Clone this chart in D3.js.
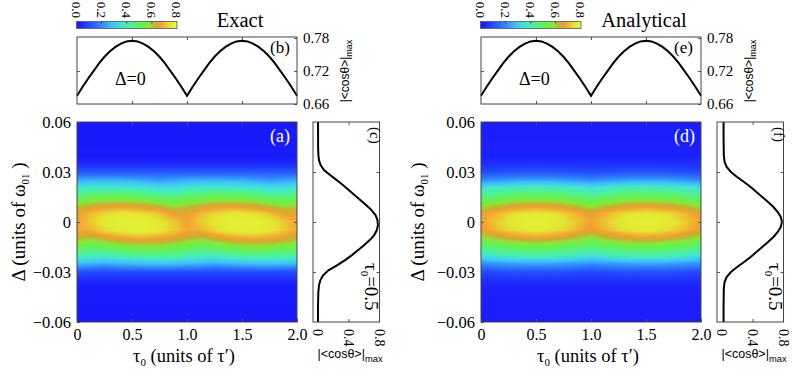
<!DOCTYPE html>
<html>
<head>
<meta charset="utf-8">
<script src="https://cdn.jsdelivr.net/npm/d3@7"></script>
<style>
  body { margin: 0; background: #fff; }
  svg { display: block; }
</style>
</head>
<body>
<svg id="chart" width="792" height="376"></svg>
<script>
// ── data ────────────────────────────────────────────────────────────────
const tauCols = [0, 0.125, 0.25, 0.375, 0.5, 0.625, 0.75, 0.875, 1, 1.125, 1.25, 1.375, 1.5, 1.625, 1.75, 1.875, 2];
const deltaRows = [0.06, 0.04, 0.035, 0.03, 0.025, 0.02, 0.015, 0.01, 0.005, 0, -0.005, -0.01, -0.015, -0.02, -0.025, -0.03, -0.035, -0.04, -0.06];

// |<cos θ>|max over (τ0, Δ), panel (a) — exact
const exactMap = [
  [0.005,0.005,0.005,0.005,0.005,0.005,0.005,0.005,0.005,0.005,0.005,0.005,0.005,0.005,0.005,0.005,0.005],
  [0.015,0.015,0.015,0.015,0.015,0.015,0.015,0.015,0.015,0.015,0.015,0.015,0.015,0.015,0.015,0.015,0.015],
  [0.04,0.04,0.04,0.04,0.04,0.04,0.04,0.04,0.04,0.04,0.04,0.04,0.04,0.04,0.04,0.04,0.04],
  [0.12,0.12,0.12,0.12,0.12,0.12,0.12,0.12,0.12,0.12,0.12,0.12,0.12,0.12,0.12,0.12,0.12],
  [0.250,0.257,0.260,0.257,0.250,0.239,0.226,0.239,0.250,0.257,0.260,0.257,0.250,0.239,0.226,0.239,0.250],
  [0.369,0.383,0.389,0.388,0.380,0.366,0.347,0.351,0.369,0.383,0.389,0.388,0.380,0.366,0.347,0.351,0.369],
  [0.493,0.514,0.527,0.530,0.523,0.506,0.483,0.467,0.493,0.514,0.527,0.530,0.523,0.506,0.483,0.467,0.493],
  [0.597,0.626,0.646,0.655,0.651,0.635,0.609,0.577,0.597,0.626,0.646,0.655,0.651,0.635,0.609,0.577,0.597],
  [0.664,0.705,0.732,0.748,0.750,0.737,0.712,0.671,0.664,0.705,0.732,0.748,0.750,0.737,0.712,0.671,0.664],
  [0.675,0.718,0.752,0.772,0.778,0.772,0.752,0.718,0.675,0.718,0.752,0.772,0.778,0.772,0.752,0.718,0.675],
  [0.682,0.694,0.730,0.756,0.768,0.767,0.752,0.722,0.682,0.694,0.730,0.756,0.768,0.767,0.752,0.722,0.682],
  [0.624,0.603,0.637,0.664,0.681,0.685,0.675,0.654,0.624,0.603,0.637,0.664,0.681,0.685,0.675,0.654,0.624],
  [0.530,0.502,0.519,0.544,0.562,0.570,0.567,0.552,0.530,0.502,0.519,0.544,0.562,0.570,0.567,0.552,0.530],
  [0.417,0.396,0.392,0.413,0.429,0.438,0.439,0.432,0.417,0.396,0.392,0.413,0.429,0.438,0.439,0.432,0.417],
  [0.274,0.262,0.248,0.262,0.274,0.282,0.285,0.282,0.274,0.262,0.248,0.262,0.274,0.282,0.285,0.282,0.274],
  [0.10,0.10,0.10,0.10,0.10,0.10,0.10,0.10,0.10,0.10,0.10,0.10,0.10,0.10,0.10,0.10,0.10],
  [0.04,0.04,0.04,0.04,0.04,0.04,0.04,0.04,0.04,0.04,0.04,0.04,0.04,0.04,0.04,0.04,0.04],
  [0.018,0.018,0.018,0.018,0.018,0.018,0.018,0.018,0.018,0.018,0.018,0.018,0.018,0.018,0.018,0.018,0.018],
  [0.005,0.005,0.005,0.005,0.005,0.005,0.005,0.005,0.005,0.005,0.005,0.005,0.005,0.005,0.005,0.005,0.005]
];

// panel (d) — analytical
const analyticMap = [
  [0.02,0.02,0.02,0.02,0.02,0.02,0.02,0.02,0.02,0.02,0.02,0.02,0.02,0.02,0.02,0.02,0.02],
  [0.028,0.028,0.028,0.028,0.028,0.028,0.028,0.028,0.028,0.028,0.028,0.028,0.028,0.028,0.028,0.028,0.028],
  [0.05,0.05,0.05,0.05,0.05,0.05,0.05,0.05,0.05,0.05,0.05,0.05,0.05,0.05,0.05,0.05,0.05],
  [0.096,0.101,0.106,0.109,0.110,0.109,0.106,0.101,0.096,0.101,0.106,0.109,0.110,0.109,0.106,0.101,0.096],
  [0.209,0.221,0.231,0.238,0.240,0.238,0.231,0.221,0.209,0.221,0.231,0.238,0.240,0.238,0.231,0.221,0.209],
  [0.357,0.377,0.394,0.406,0.410,0.406,0.394,0.377,0.357,0.377,0.394,0.406,0.410,0.406,0.394,0.377,0.357],
  [0.462,0.488,0.510,0.525,0.530,0.525,0.510,0.488,0.462,0.488,0.510,0.525,0.530,0.525,0.510,0.488,0.462],
  [0.571,0.603,0.630,0.648,0.655,0.648,0.630,0.603,0.571,0.603,0.630,0.648,0.655,0.648,0.630,0.603,0.571],
  [0.658,0.695,0.726,0.747,0.755,0.747,0.726,0.695,0.658,0.695,0.726,0.747,0.755,0.747,0.726,0.695,0.658],
  [0.675,0.713,0.746,0.767,0.775,0.767,0.746,0.713,0.675,0.713,0.746,0.767,0.775,0.767,0.746,0.713,0.675],
  [0.658,0.695,0.726,0.747,0.755,0.747,0.726,0.695,0.658,0.695,0.726,0.747,0.755,0.747,0.726,0.695,0.658],
  [0.571,0.603,0.630,0.648,0.655,0.648,0.630,0.603,0.571,0.603,0.630,0.648,0.655,0.648,0.630,0.603,0.571],
  [0.462,0.488,0.510,0.525,0.530,0.525,0.510,0.488,0.462,0.488,0.510,0.525,0.530,0.525,0.510,0.488,0.462],
  [0.357,0.377,0.394,0.406,0.410,0.406,0.394,0.377,0.357,0.377,0.394,0.406,0.410,0.406,0.394,0.377,0.357],
  [0.209,0.221,0.231,0.238,0.240,0.238,0.231,0.221,0.209,0.221,0.231,0.238,0.240,0.238,0.231,0.221,0.209],
  [0.096,0.101,0.106,0.109,0.110,0.109,0.106,0.101,0.096,0.101,0.106,0.109,0.110,0.109,0.106,0.101,0.096],
  [0.05,0.05,0.05,0.05,0.05,0.05,0.05,0.05,0.05,0.05,0.05,0.05,0.05,0.05,0.05,0.05,0.05],
  [0.028,0.028,0.028,0.028,0.028,0.028,0.028,0.028,0.028,0.028,0.028,0.028,0.028,0.028,0.028,0.028,0.028],
  [0.02,0.02,0.02,0.02,0.02,0.02,0.02,0.02,0.02,0.02,0.02,0.02,0.02,0.02,0.02,0.02,0.02]
];

// Δ = 0 cuts, panels (b) and (e)
const tauLine = [0,0.05,0.1,0.15,0.2,0.25,0.3,0.35,0.4,0.45,0.5,0.55,0.6,0.65,0.7,0.75,0.8,0.85,0.9,0.95,1,
  1.05,1.1,1.15,1.2,1.25,1.3,1.35,1.4,1.45,1.5,1.55,1.6,1.65,1.7,1.75,1.8,1.85,1.9,1.95,2];
const exactCutTau = [0.675,0.691,0.706,0.720,0.734,0.746,0.756,0.764,0.770,0.774,0.775,0.774,0.770,0.764,0.756,0.746,0.734,0.720,0.706,0.691,0.675,
  0.691,0.706,0.720,0.734,0.746,0.756,0.764,0.770,0.774,0.775,0.774,0.770,0.764,0.756,0.746,0.734,0.720,0.706,0.691,0.675];
const analyticCutTau = [0.675,0.691,0.706,0.720,0.734,0.746,0.756,0.764,0.770,0.774,0.775,0.774,0.770,0.764,0.756,0.746,0.734,0.720,0.706,0.691,0.675,
  0.691,0.706,0.720,0.734,0.746,0.756,0.764,0.770,0.774,0.775,0.774,0.770,0.764,0.756,0.746,0.734,0.720,0.706,0.691,0.675];

// τ0 = 0.5 cuts, panels (c) and (f)
const exactCutDelta = [0.06,0.045,0.04,0.037,0.034,0.031,0.028,0.025,0.022,0.019,0.016,0.013,0.01,0.007,0.004,0.001,
  -0.002,-0.005,-0.008,-0.011,-0.014,-0.017,-0.02,-0.023,-0.026,-0.029,-0.032,-0.035,-0.038,-0.042,-0.05,-0.06];
const exactCutVals = [0.005,0.006,0.01,0.018,0.04,0.085,0.165,0.25,0.33,0.405,0.48,0.555,0.63,0.70,0.75,0.775,
  0.78,0.765,0.73,0.67,0.60,0.52,0.44,0.35,0.25,0.14,0.07,0.035,0.017,0.009,0.005,0.005];
const analyticCutDelta = [0.06,0.05,0.04,0.036,0.033,0.03,0.027,0.024,0.021,0.018,0.015,0.012,0.009,0.006,0.003,0,
  -0.003,-0.006,-0.009,-0.012,-0.015,-0.018,-0.021,-0.024,-0.027,-0.03,-0.033,-0.036,-0.04,-0.05,-0.06];
const analyticCutVals = [0.025,0.025,0.028,0.038,0.065,0.12,0.20,0.29,0.375,0.45,0.525,0.60,0.67,0.725,0.765,0.78,
  0.765,0.725,0.67,0.60,0.525,0.45,0.375,0.29,0.20,0.12,0.065,0.038,0.028,0.025,0.025];

const tauTicks = [0, 0.5, 1, 1.5, 2];
const deltaTicks = [0.06, 0.03, 0, -0.03, -0.06];
const barTicks = [0, 0.2, 0.4, 0.6, 0.8];
const lineTicks = [0.66, 0.72, 0.78];
const cutTicks = [0, 0.4, 0.8];

// colour map (blue → cyan → green → orange → yellow)
const cmapStops = [0, 0.02, 0.06, 0.12, 0.20, 0.28, 0.36, 0.44, 0.52, 0.58, 0.63, 0.67, 0.70, 0.74, 0.80];
const cmapColors = ["#1818fa", "#1a1cfc", "#2034ff", "#2558ff", "#3088ff", "#40c0f8", "#40e8d0", "#50f090",
  "#64f050", "#84e838", "#c8b030", "#f0a030", "#f0b830", "#e4e430", "#e0fa38"];
const color = d3.scaleLinear().domain(cmapStops).range(cmapColors).clamp(true);

const SERIF = "Liberation Serif, Times New Roman, serif";
const SANS = "Liberation Sans, Arial, sans-serif";
const svg = d3.select("#chart").attr("font-family", SERIF);
const defs = svg.append("defs");

const fmtDelta = d => d === 0 ? "0" : d3.format(".2f")(d);
const fmtTau = d => d === 0 ? "0" : d3.format(".1f")(d);
const fmtBar = d3.format(".1f");
const fmtCut = d => d === 0 ? "0" : d3.format(".1f")(d);

function heatImage(g, x, y, vals) {
  const xa = x.range()[0], xb = x.range()[1];
  const ya = y.range()[1], yb = y.range()[0];
  const W = Math.round(xb - xa), H = Math.round(yb - ya);
  const cv = document.createElement("canvas");
  cv.width = W; cv.height = H;
  const ctx = cv.getContext("2d");
  const img = ctx.createImageData(W, H);
  const dAsc = deltaRows.slice().reverse();
  const vAsc = vals.slice().reverse();
  const nT = tauCols.length, nD = dAsc.length;
  for (let py = 0; py < H; py++) {
    const d = y.invert(ya + py + 0.5);
    const k = Math.max(0, Math.min(nD - 2, d3.bisectRight(dAsc, d) - 1));
    const fd = Math.max(0, Math.min(1, (d - dAsc[k]) / (dAsc[k + 1] - dAsc[k])));
    for (let px = 0; px < W; px++) {
      const t = x.invert(xa + px + 0.5);
      const i = Math.max(0, Math.min(nT - 2, d3.bisectRight(tauCols, t) - 1));
      const ft = Math.max(0, Math.min(1, (t - tauCols[i]) / (tauCols[i + 1] - tauCols[i])));
      const a = vAsc[k][i] * (1 - ft) + vAsc[k][i + 1] * ft;
      const b = vAsc[k + 1][i] * (1 - ft) + vAsc[k + 1][i + 1] * ft;
      const c = d3.rgb(color(a * (1 - fd) + b * fd));
      const o = (py * W + px) * 4;
      img.data[o] = c.r; img.data[o + 1] = c.g; img.data[o + 2] = c.b; img.data[o + 3] = 255;
    }
  }
  ctx.putImageData(img, 0, 0);
  g.append("image")
    .attr("x", xa).attr("y", ya).attr("width", W).attr("height", H)
    .attr("preserveAspectRatio", "none")
    .attr("href", cv.toDataURL());
}

// inner tick marks, no labels
function innerTicks(g, axisFn, scale, vals, tx, ty, len) {
  g.append("g").attr("transform", `translate(${tx},${ty})`)
    .call(axisFn(scale).tickValues(vals).tickSizeInner(-len).tickSizeOuter(0).tickFormat(""))
    .call(s => s.select(".domain").remove())
    .call(s => s.selectAll("line").attr("stroke", "#555"));
}

function frame(g, x0, y0, x1, y1) {
  g.append("rect").attr("x", x0).attr("y", y0).attr("width", x1 - x0).attr("height", y1 - y0)
    .attr("fill", "none").attr("stroke", "#444").attr("stroke-width", 1);
}

function cosLabel(sel, size) {
  sel.attr("font-family", SANS).attr("font-size", size);
  sel.append("tspan").text("|<cosθ>|");
  sel.append("tspan").attr("font-size", size * 0.75).attr("dy", size * 0.3).text("max");
}

function drawPanel(ox, p) {
  const g = svg.append("g").attr("transform", `translate(${ox},0)`);

  const x = d3.scaleLinear().domain([0, 2]).range([77, 297]);
  const y = d3.scaleLinear().domain([-0.06, 0.06]).range([322, 122]);

  // ── colour bar ──
  const xbar = d3.scaleLinear().domain([0, 0.8]).range([76.5, 177]);
  const gid = "grad" + p.key;
  defs.append("linearGradient").attr("id", gid)
    .selectAll("stop").data(d3.range(0, 0.8001, 0.02)).join("stop")
    .attr("offset", d => (d / 0.8 * 100) + "%")
    .attr("stop-color", d => color(d));
  g.append("rect").attr("x", 76.5).attr("y", 21.5).attr("width", 100.5).attr("height", 7)
    .attr("fill", `url(#${gid})`).attr("stroke", "#555").attr("stroke-width", 0.8);
  g.append("g").selectAll("line").data(barTicks.slice(1, -1)).join("line")
    .attr("x1", d => xbar(d)).attr("x2", d => xbar(d)).attr("y1", 21.5).attr("y2", 23.5)
    .attr("stroke", "#444");
  g.append("g").selectAll("text").data(barTicks).join("text")
    .attr("transform", d => `translate(${xbar(d)},18) rotate(90)`)
    .attr("text-anchor", "end").attr("dy", "0.35em").attr("font-size", 13)
    .text(fmtBar);

  g.append("text").attr("x", 240).attr("y", 27).attr("text-anchor", "middle")
    .attr("font-size", 20.5).text(p.title);

  // ── Δ = 0 cut ──
  const yb = d3.scaleLinear().domain([0.66, 0.782]).range([104, 37]);
  g.append("path").datum(p.cutTau)
    .attr("fill", "none").attr("stroke", "#000").attr("stroke-width", 2)
    .attr("d", d3.line().x((d, i) => x(tauLine[i])).y(d => yb(d)));
  innerTicks(g, d3.axisTop, x, [0.5, 1, 1.5], 0, 37, 3);
  innerTicks(g, d3.axisBottom, x, [0.5, 1, 1.5], 0, 104, 3);
  innerTicks(g, d3.axisLeft, yb, [0.72], 77, 0, 3);
  g.append("g").attr("transform", "translate(297,0)")
    .call(d3.axisRight(yb).tickValues(lineTicks).tickSizeInner(-3).tickSizeOuter(0)
      .tickPadding(6).tickFormat(d3.format(".2f")))
    .call(s => s.select(".domain").remove())
    .call(s => s.selectAll("line").attr("stroke", "#555"))
    .attr("font-family", SERIF).attr("font-size", 15);
  frame(g, 77, 37, 297, 104);
  g.append("text").attr("x", 115).attr("y", 85).attr("font-size", 18).text("Δ=0");
  g.append("text").attr("x", 270).attr("y", 53).attr("font-size", 17).text(p.letters[1]);
  g.append("text").attr("transform", "translate(345,71) rotate(-90)")
    .attr("text-anchor", "middle").attr("dy", "0.3em").call(cosLabel, 12);

  // ── heat map ──
  heatImage(g, x, y, p.map);
  innerTicks(g, d3.axisTop, x, [0.5, 1, 1.5], 0, 122, 3);
  innerTicks(g, d3.axisRight, y, [0.03, 0, -0.03], 297, 0, 3);
  g.append("g").attr("transform", "translate(77,0)")
    .call(d3.axisLeft(y).tickValues(deltaTicks).tickSizeInner(-3).tickSizeOuter(0)
      .tickPadding(6).tickFormat(fmtDelta))
    .call(s => s.select(".domain").remove())
    .call(s => s.selectAll("line").attr("stroke", "#555"))
    .attr("font-family", SERIF).attr("font-size", 16.5);
  g.append("g").attr("transform", "translate(0,322)")
    .call(d3.axisBottom(x).tickValues(tauTicks).tickSizeInner(-3).tickSizeOuter(0)
      .tickPadding(7).tickFormat(fmtTau))
    .call(s => s.select(".domain").remove())
    .call(s => s.selectAll("line").attr("stroke", "#555"))
    .attr("font-family", SERIF).attr("font-size", 16);
  frame(g, 77, 122, 297, 322);
  g.append("text").attr("x", 270).attr("y", 141.5).attr("font-size", 18).attr("fill", "#fff")
    .text(p.letters[0]);

  const yl = g.append("text").attr("transform", `translate(${p.ylabX},222) rotate(-90)`)
    .attr("text-anchor", "middle").attr("font-size", 19);
  yl.append("tspan").text("Δ (units of ω");
  yl.append("tspan").attr("font-size", 11).attr("dy", 4).text("01");
  yl.append("tspan").attr("dy", -4).text(" )");

  const xl = g.append("text").attr("x", 184).attr("y", 362)
    .attr("text-anchor", "middle").attr("font-size", 18.5);
  xl.append("tspan").text("τ");
  xl.append("tspan").attr("font-size", 11).attr("dy", 4).text("0");
  xl.append("tspan").attr("dy", -4).text(" (units of τ′)");

  // ── τ0 = 0.5 cut ──
  const xc = d3.scaleLinear().domain([-0.06, 0.8]).range([313, 379.5]);
  g.append("path").datum(p.cutVals)
    .attr("fill", "none").attr("stroke", "#000").attr("stroke-width", 2)
    .attr("d", d3.line().x(d => xc(d)).y((d, i) => y(p.cutDelta[i])));
  innerTicks(g, d3.axisLeft, y, [0.03, 0, -0.03], 313, 0, 3);
  innerTicks(g, d3.axisRight, y, [0.03, 0, -0.03], 379.5, 0, 3);
  innerTicks(g, d3.axisTop, xc, [0.4], 0, 122, 3);
  innerTicks(g, d3.axisBottom, xc, [0.4], 0, 322, 3);
  frame(g, 313, 122, 379.5, 322);
  g.append("g").selectAll("text").data(cutTicks).join("text")
    .attr("transform", d => `translate(${xc(d)},329) rotate(90)`)
    .attr("dy", "0.35em").attr("font-size", 14)
    .text(fmtCut);
  g.append("text").attr("x", 350).attr("y", 358).attr("text-anchor", "middle").call(cosLabel, 12.5);
  g.append("text").attr("transform", "translate(375.5,127) rotate(90)")
    .attr("dy", "0.35em").attr("font-size", 15).text(p.letters[2]);
  const tl = g.append("text").attr("transform", "translate(372,263) rotate(90)")
    .attr("dy", "0.35em").attr("font-size", 19);
  tl.append("tspan").text("τ");
  tl.append("tspan").attr("font-size", 11).attr("dy", 4).text("0");
  tl.append("tspan").attr("dy", -4).text("=0.5");
}

drawPanel(0, {
  key: "a", title: "Exact", letters: ["(a)", "(b)", "(c)"], ylabX: 25,
  map: exactMap, cutTau: exactCutTau, cutDelta: exactCutDelta, cutVals: exactCutVals
});
drawPanel(404, {
  key: "d", title: "Analytical", letters: ["(d)", "(e)", "(f)"], ylabX: 20,
  map: analyticMap, cutTau: analyticCutTau, cutDelta: analyticCutDelta, cutVals: analyticCutVals
});
</script>
</body>
</html>
